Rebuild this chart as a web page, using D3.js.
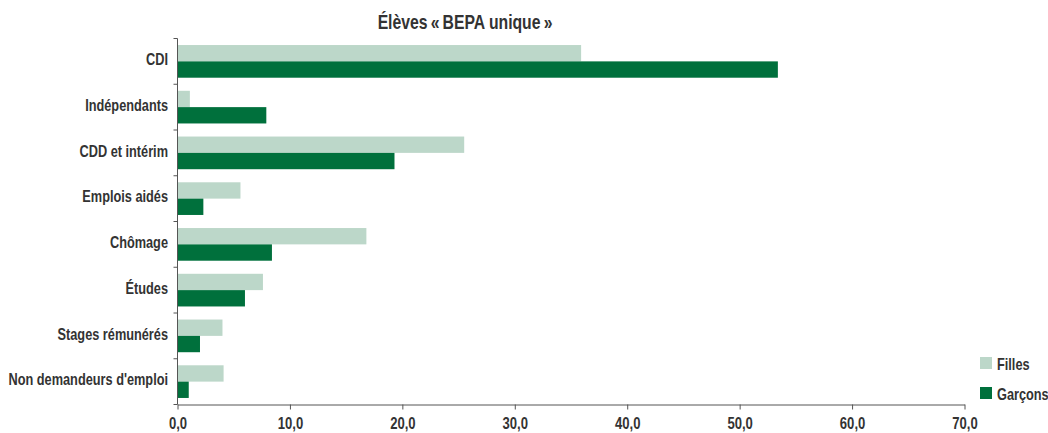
<!DOCTYPE html>
<html><head><meta charset="utf-8">
<script src="https://cdn.jsdelivr.net/npm/d3@7"></script>
<style>
body{margin:0;background:#fff;}
text{font-family:"Liberation Sans",Arial,sans-serif;font-weight:bold;fill:#333;}
</style></head>
<body><svg id="c" width="1048" height="433"></svg>
<script>
const categories = ["CDI","Indépendants","CDD et intérim","Emplois aidés","Chômage","Études","Stages rémunérés","Non demandeurs d'emploi"];
const series = ["Filles","Garçons"];
const filles = [35.9, 1.1, 25.5, 5.6, 16.8, 7.6, 4.0, 4.1];
const garcons = [53.4, 7.9, 19.3, 2.3, 8.4, 6.0, 2.0, 1.0];
const xTicks = [0,10,20,30,40,50,60,70];
const colors = ["#bcd7c9","#00703c"];
const title = "Élèves\u2009«\u2009BEPA unique\u2009»";

const SX = 0.75; // condensed look
const svg = d3.select("#c");
const pL = 177.5, pR = 964.5, pT = 38.5, pB = 404.5;
const x = d3.scaleLinear().domain([0,70]).range([pL,pR]);
const y0 = d3.scaleBand().domain(categories).range([pT,pB]).padding(0);
const y1 = d3.scaleBand().domain(series).range([0,y0.bandwidth()]).paddingInner(0).paddingOuter(0.4);
const col = d3.scaleOrdinal().domain(series).range(colors);
const data = categories.map((c,i)=>({c, vals:[{s:"Filles",v:filles[i]},{s:"Garçons",v:garcons[i]}]}));

function ctext(parent, tx, ty, str, size, anchor){
  const gg = parent.append("g").attr("transform",`translate(${tx},${ty}) scale(${SX},1)`);
  gg.append("text").attr("x",0).attr("y",0).attr("font-size",size+"px").attr("text-anchor",anchor||"start").text(str);
  return gg;
}

const g = svg.append("g");
g.selectAll("g.cat").data(data).join("g").attr("class","cat")
 .attr("transform",d=>`translate(0,${y0(d.c)})`)
 .selectAll("rect").data(d=>d.vals).join("rect")
 .attr("x",x(0)).attr("y",d=>y1(d.s)).attr("height",y1.bandwidth())
 .attr("width",d=>x(d.v)-x(0)).attr("fill",d=>col(d.s));

// x axis
const xa = svg.append("g").attr("transform",`translate(0,${pB})`)
 .call(d3.axisBottom(x).tickValues(xTicks).tickSize(5).tickSizeOuter(0).tickFormat(d=>d3.format(".1f")(d).replace(".",",")));
xa.select(".domain").attr("stroke","#555");
xa.selectAll(".tick line").attr("stroke","#555");
xa.selectAll(".tick text").attr("y",24.5).attr("dy",0).attr("font-size","17px").attr("fill","#333")
  .attr("font-family",null).attr("transform",`scale(${SX+0.02},1)`);
xa.attr("font-family",null).attr("font-size",null);

// y axis
const ya = svg.append("g");
ya.append("line").attr("x1",pL).attr("x2",pL).attr("y1",pT).attr("y2",pB).attr("stroke","#555");
const bounds = categories.map(c=>y0(c)).concat([pB]);
ya.selectAll("line.t").data(bounds).join("line").attr("class","t")
 .attr("x1",pL-4).attr("x2",pL).attr("y1",d=>d).attr("y2",d=>d).attr("stroke","#555");
categories.forEach(c=>{
  ctext(ya, 168, y0(c)+y0.bandwidth()/2+3.8, c, 17, "end");
});

// title
ctext(svg, 465, 28.5, title, 21, "middle");

// legend
const lg = svg.append("g");
series.forEach((s,i)=>{
  const yy = 357 + i*30;
  lg.append("rect").attr("x",980).attr("y",yy).attr("width",12).attr("height",12).attr("fill",col(s));
  ctext(lg, 997, yy+12.5, s, 17, "start");
});
</script></body></html>
